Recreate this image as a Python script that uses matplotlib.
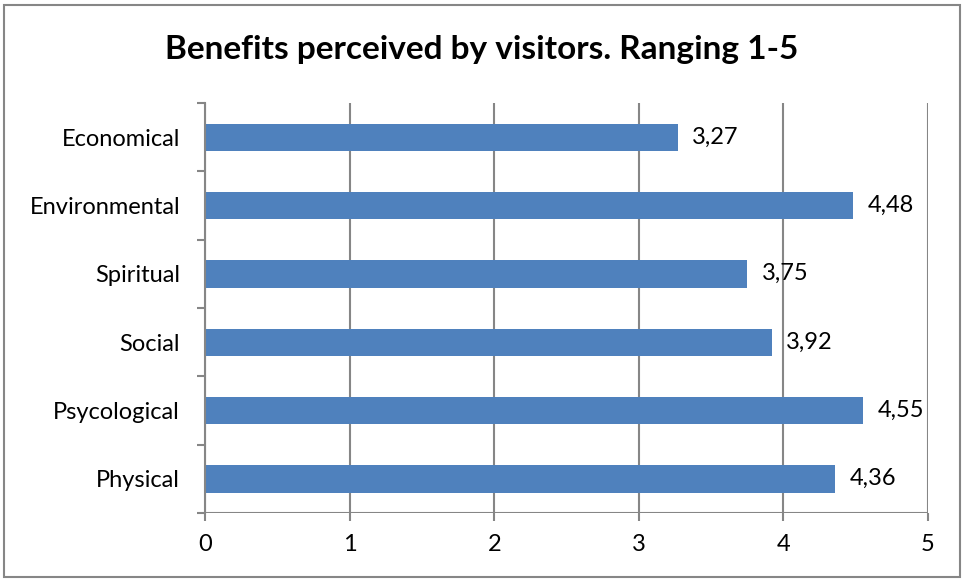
import matplotlib
matplotlib.use("Agg")
import matplotlib.pyplot as plt
from matplotlib.patches import Rectangle

# data
categories = ["Physical", "Psycological", "Social", "Spiritual", "Environmental", "Economical"]
values = [4.36, 4.55, 3.92, 3.75, 4.48, 3.27]
labels = ["4,36", "4,55", "3,92", "3,75", "4,48", "3,27"]
xticks = [0, 1, 2, 3, 4, 5]

plt.rcParams['font.family'] = ['Lato', 'DejaVu Sans']

W, H = 964, 580
fig = plt.figure(figsize=(W / 100, H / 100), dpi=100)
ax = fig.add_axes([205 / W, 1 - 513 / H, (928 - 205) / W, (513 - 103) / H])

grey = "#868686"
bar_col = "#4f81bd"

ypos = list(range(len(categories)))
ax.barh(ypos, values, height=0.4, color=bar_col, zorder=3)
for y, v, t in zip(ypos, values, labels):
    ax.text(v + 0.1, y, t, va="center", ha="left", fontsize=17, color="black")

ax.set_xlim(0, 5)
ax.set_ylim(-0.5, len(categories) - 0.5)
ax.set_xticks(xticks)
ax.set_xticklabels([str(x) for x in xticks], fontsize=17)
ax.set_yticks(ypos)
ax.set_yticklabels(categories, fontsize=17)
ax.tick_params(axis="y", length=0, pad=18)
ax.set_yticks([i - 0.5 for i in range(len(categories) + 1)], minor=True)
ax.tick_params(axis="y", which="minor", length=6, width=1.5, color=grey, direction="out")
ax.tick_params(axis="x", length=6, width=1.5, color=grey, direction="out", pad=9)

ax.grid(axis="x", color=grey, linewidth=1.5, zorder=0)
for s in ["top", "right", "bottom"]:
    ax.spines[s].set_visible(False)
ax.spines["left"].set_color(grey)
ax.spines["left"].set_linewidth(1.5)
ax.spines["left"].set_zorder(4)
ax.axhline(-0.5, color=grey, linewidth=1.5, zorder=4)

fig.text(482 / W, 1 - 50 / H, "Benefits perceived by visitors. Ranging 1-5",
         ha="center", va="center", fontsize=24, fontweight="bold")

fig.patches.append(Rectangle((4 / W, 3 / H), (960 - 4) / W, (576 - 4) / H,
                             transform=fig.transFigure, fill=False,
                             edgecolor=grey, linewidth=1.5))

fig.savefig("out.png", dpi=100)
